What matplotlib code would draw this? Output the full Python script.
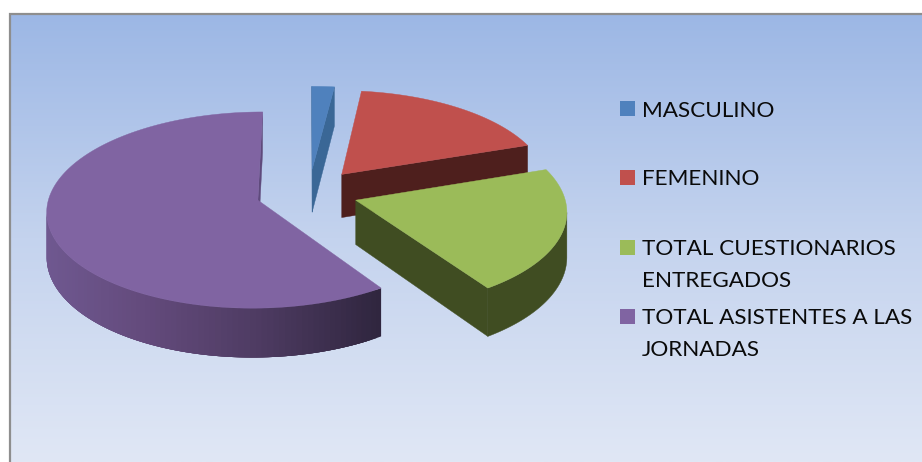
import numpy as np
import matplotlib
matplotlib.use('Agg')
import matplotlib.pyplot as plt
from matplotlib.colors import LinearSegmentedColormap
from matplotlib.patches import Polygon, Rectangle

# values
categories = ['MASCULINO', 'FEMENINO', 'TOTAL CUESTIONARIOS\nENTREGADOS', 'TOTAL ASISTENTES A LAS\nJORNADAS']
values = [7, 64, 75, 214]
top_colors = ['#4F81BD', '#C0504D', '#9BBB59', '#8064A2']
wall_colors = ['#3A6796', '#4E1F1D', '#404D22', '#5F4A7C']
explode = [0.255, 0.255, 0.235, 0.255]

# fake 3d view of the pie, all in pixels of the 922x462 picture
CX, CY = 309, 193
RADIUS = 208
SQUASH = 0.46
DEPTH = 44
PERSPECTIVE = 0.10


def project(x, y, z=0.0):
    f = 1 / (1 + PERSPECTIVE * y)
    return CX + RADIUS * x * f, CY - RADIUS * SQUASH * y * f + DEPTH * z * f


def unit(deg):
    rad = np.radians(deg)
    return np.sin(rad), np.cos(rad)


def faces_camera(x, y, deg):
    nx, ny = unit(deg)
    return (0 - x) * nx + (-1 / PERSPECTIVE - y) * ny > 0


def draw_slice(ax, start, end, offset, top_color, wall_color, shaded=False):
    ox, oy = unit((start + end) / 2)
    ox, oy = ox * offset, oy * offset
    angles = np.linspace(start, end, 150)
    rim = [(ox + unit(a)[0], oy + unit(a)[1]) for a in angles]

    # straight cut walls
    for deg, normal in ((start, start - 90), (end, end + 90)):
        ex, ey = ox + unit(deg)[0], oy + unit(deg)[1]
        if faces_camera(ox, oy, normal):
            quad = [project(ox, oy), project(ex, ey), project(ex, ey, 1), project(ox, oy, 1)]
            ax.add_patch(Polygon(quad, closed=True, fc=wall_color, ec=wall_color, lw=0.3, zorder=ax.zcount))
            ax.zcount += 1

    # outer wall: only the strips that face the viewer
    seen = [i for i in range(len(angles) - 1)
            if faces_camera(rim[i][0], rim[i][1], (angles[i] + angles[i + 1]) / 2)]
    if seen:
        xs = [project(*p)[0] for p in rim]
        if shaded:
            # each strip overlaps the next one, that hides the seams
            for k, i in enumerate(seen):
                j = seen[min(k + 3, len(seen) - 1)] + 1
                color = PURPLE_WALL((xs[i] - min(xs)) / (max(xs) - min(xs)))
                band = [project(*p) for p in rim[i:j + 1]] + [project(*p, 1) for p in rim[i:j + 1][::-1]]
                ax.add_patch(Polygon(band, closed=True, fc=color, ec='none', zorder=ax.zcount + k * 1e-3))
        else:
            band = rim[seen[0]:seen[-1] + 2]
            poly = [project(*p) for p in band] + [project(*p, 1) for p in band[::-1]]
            ax.add_patch(Polygon(poly, closed=True, fc=wall_color, ec=wall_color, lw=0.3, zorder=ax.zcount))
    ax.zcount += 1

    top = [project(ox, oy)] + [project(*p) for p in rim]
    ax.add_patch(Polygon(top, closed=True, fc=top_color, ec=top_color, lw=0.3, zorder=ax.zcount))
    ax.zcount += 1


PURPLE_WALL = LinearSegmentedColormap.from_list('wall', ['#6F5890', '#62497A', '#4C3A60', '#30263F'])

fig = plt.figure(figsize=(9.22, 4.62), dpi=100)
ax = fig.add_axes([0, 0, 1, 1])
ax.set_xlim(0, 922)
ax.set_ylim(462, 0)
ax.axis('off')
ax.zcount = 5

# chart area background
background = LinearSegmentedColormap.from_list('bg', ['#9CB7E5', '#C4D3EE', '#E0E7F5'])
ax.imshow(np.linspace(0, 1, 256).reshape(-1, 1), cmap=background, aspect='auto',
          extent=(10, 922, 462, 13), zorder=1)
ax.set_xlim(0, 922)
ax.set_ylim(462, 0)
ax.plot([10, 10, 922], [462, 14, 14], color='#8E8E8E', lw=1.6, zorder=2, solid_joinstyle='miter')

# slice angles from the values, clockwise from 12 o'clock
total = sum(values)
edges = np.cumsum([0] + values) / total * 360
order = [0, 1, 3, 2]
for i in order:
    draw_slice(ax, edges[i], edges[i + 1], explode[i], top_colors[i], wall_colors[i], shaded=(i == 3))

# legend
key_y = [108.5, 177.5, 247.5, 316.5]
text_y = [111, 179, 265, 334]
for name, color, ky, ty in zip(categories, top_colors, key_y, text_y):
    ax.add_patch(Rectangle((620, ky - 7.5), 15, 15, fc=color, ec='none', zorder=30))
    ax.text(642, ty, name, fontsize=16.2, family='Lato', color='#0A0A0A', va='center', ha='left',
            linespacing=1.7, zorder=30)

fig.savefig('out.png', dpi=100, facecolor='white')
